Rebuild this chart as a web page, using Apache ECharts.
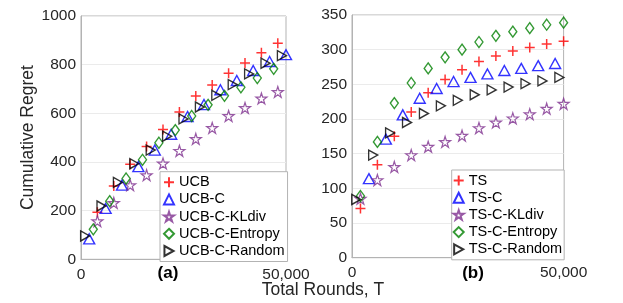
<!DOCTYPE html>
<html>
<head>
<meta charset="utf-8">
<script src="https://cdn.jsdelivr.net/npm/echarts@6/dist/echarts.min.js"></script>
<style>
html,body{margin:0;padding:0;background:#fff;}
#chart{width:623px;height:303px;}
</style>
</head>
<body>
<div id="chart"></div>
<script>
// ---- Panel (a): UCB family ----
const ucbX      = [4000, 8000, 12000, 16000, 20000, 24000, 28000, 32000, 36000, 40000, 44000, 48000];
const ucbY      = [193, 301, 391, 464, 534, 605, 671, 716, 765, 807, 849, 888];
const ucbCX     = [2000, 6000, 10000, 14000, 18000, 22000, 26000, 30000, 34000, 38000, 42000, 46000, 50000];
const ucbCY     = [84, 209, 305, 381, 449, 514, 587, 636, 697, 735, 776, 813, 841];
const ucbKLX    = [4000, 8000, 12000, 16000, 20000, 24000, 28000, 32000, 36000, 40000, 44000, 48000];
const ucbKLY    = [157, 232, 305, 346, 394, 446, 495, 540, 589, 622, 661, 688];
const ucbEntX   = [3000, 7000, 11000, 15000, 19000, 23000, 27000, 31000, 35000, 39000, 43000, 47000];
const ucbEntY   = [123, 239, 332, 409, 479, 531, 589, 635, 672, 707, 745, 783];
const ucbRndX   = [1000, 5000, 9000, 13000, 17000, 21000, 25000, 29000, 33000, 37000, 41000, 45000, 49000];
const ucbRndY   = [96, 219, 316, 393, 449, 506, 577, 626, 674, 718, 762, 806, 837];

// ---- Panel (b): TS family ----
const tsX       = [2000, 6000, 10000, 14000, 18000, 22000, 26000, 30000, 34000, 38000, 42000, 46000, 50000];
const tsY       = [71, 134, 175, 210, 238, 257, 271, 283, 291, 298, 303, 308, 312];
const tsCX      = [4000, 8000, 12000, 16000, 20000, 24000, 28000, 32000, 36000, 40000, 44000, 48000];
const tsCY      = [114, 171, 206, 230, 244, 254, 260, 265, 270, 273, 277, 280];
const tsKLX     = [2000, 6000, 10000, 14000, 18000, 22000, 26000, 30000, 34000, 38000, 42000, 46000, 50000];
const tsKLY     = [85, 112, 131, 148, 160, 167, 176, 187, 195, 201, 207, 215, 222];
const tsEntX    = [2000, 6000, 10000, 14000, 18000, 22000, 26000, 30000, 34000, 38000, 42000, 46000, 50000];
const tsEntY    = [89, 167, 223, 252, 273, 289, 300, 311, 320, 326, 331, 336, 339];
const tsRndX    = [1000, 5000, 9000, 13000, 17000, 21000, 25000, 29000, 33000, 37000, 41000, 45000, 49000];
const tsRndY    = [84, 148, 180, 195, 208, 219, 227, 235, 242, 246, 251, 255, 260];

const namesA = ['UCB', 'UCB-C', 'UCB-C-KLdiv', 'UCB-C-Entropy', 'UCB-C-Random'];
const namesB = ['TS', 'TS-C', 'TS-C-KLdiv', 'TS-C-Entropy', 'TS-C-Random'];
const xTicks = [0, 50000];
const yTicksA = [0, 200, 400, 600, 800, 1000];
const yTicksB = [0, 50, 100, 150, 200, 250, 300, 350];

const FONT = 'Liberation Sans, Arial, Helvetica, sans-serif';
const PLUS = 'path://M5,0L5,10M0,5L10,5';
const STAR = 'path://M10,0L12.245,6.91L19.511,6.91L13.633,11.18L15.878,18.09L10,13.82L4.122,18.09L6.367,11.18L0.489,6.91L7.755,6.91Z';
const RTRI = 'path://M0,0L10,5.5L0,11Z';

const styles = [
  {symbol: PLUS, size: 10, color: '#ff0000', bw: 1.5},
  {symbol: 'triangle', size: [11, 10], color: '#0000ff', bw: 1.4},
  {symbol: STAR, size: 11, color: '#7e2f8e', bw: 1.2},
  {symbol: 'diamond', size: [8, 11], color: '#008000', bw: 1.4},
  {symbol: RTRI, size: [9, 10], color: '#000000', bw: 1.4}
];

function zip(xs, ys) { return xs.map((x, i) => [x, ys[i]]); }

function mk(name, idx, xs, ys, st) {
  return {
    type: 'scatter', name: name, xAxisIndex: idx, yAxisIndex: idx,
    data: zip(xs, ys), symbol: st.symbol, symbolSize: st.size,
    itemStyle: {color: 'transparent', borderColor: st.color, borderWidth: st.bw},
    emphasis: {disabled: true}, animation: false
  };
}

const dataA = [[ucbX, ucbY], [ucbCX, ucbCY], [ucbKLX, ucbKLY], [ucbEntX, ucbEntY], [ucbRndX, ucbRndY]];
const dataB = [[tsX, tsY], [tsCX, tsCY], [tsKLX, tsKLY], [tsEntX, tsEntY], [tsRndX, tsRndY]];

const series = [];
dataA.forEach((d, i) => series.push(mk(namesA[i], 0, d[0], d[1], styles[i])));
dataB.forEach((d, i) => series.push(mk(namesB[i], 1, d[0], d[1], styles[i])));

const BOX = '#b3b3b3';
const LBL = '#262626';

function xAxisCfg(gi) {
  return {
    type: 'value', gridIndex: gi, min: xTicks[0], max: xTicks[xTicks.length - 1],
    interval: xTicks[1] - xTicks[0],
    axisLine: {show: true, lineStyle: {color: BOX}},
    axisTick: {show: false}, splitLine: {show: false},
    axisLabel: {color: LBL, fontSize: 15.5, fontFamily: FONT, margin: 7,
      formatter: v => v.toLocaleString('en-US')}
  };
}
function yAxisCfg(gi, ticks, name) {
  return {
    type: 'value', gridIndex: gi, min: ticks[0], max: ticks[ticks.length - 1],
    interval: ticks[1] - ticks[0],
    name: name, nameLocation: 'middle', nameGap: 38,
    nameTextStyle: {color: LBL, fontSize: 17.5, fontFamily: FONT},
    axisLine: {show: true, lineStyle: {color: BOX}},
    axisTick: {show: false},
    splitLine: {show: true, lineStyle: {color: '#ebebeb', width: 1}},
    axisLabel: {color: LBL, fontSize: 15.5, fontFamily: FONT, margin: 5,
      formatter: v => String(v)}
  };
}

const legendCommon = {
  orient: 'vertical', itemWidth: 10, itemHeight: 10, itemGap: 2.2,
  backgroundColor: '#ffffff', borderColor: BOX, borderWidth: 1, borderRadius: 0,
  textStyle: {color: '#000', fontSize: 14.5, fontFamily: FONT},
  selectedMode: false
};

const option = {
  animation: false,
  backgroundColor: '#ffffff',
  grid: [
    {left: 81, top: 16, width: 205, height: 243.3, show: true, borderColor: BOX, borderWidth: 1, backgroundColor: 'transparent'},
    {left: 352, top: 15, width: 211.6, height: 242.7, show: true, borderColor: BOX, borderWidth: 1, backgroundColor: 'transparent'}
  ],
  xAxis: [xAxisCfg(0), xAxisCfg(1)],
  yAxis: [yAxisCfg(0, yTicksA, 'Cumulative Regret'), yAxisCfg(1, yTicksB, '')],
  legend: [
    Object.assign({}, legendCommon, {data: namesA, left: 160, top: 171.7, padding: [3, 3, 3, 3]}),
    Object.assign({}, legendCommon, {data: namesB, left: 451.7, top: 170, padding: [3, 2, 3, 1]})
  ],
  graphic: [
    {type: 'text', x: 168, y: 273, style: {text: '(a)', font: 'bold 17px ' + FONT, fill: '#000', textAlign: 'center', textVerticalAlign: 'middle'}},
    {type: 'text', x: 473, y: 273, style: {text: '(b)', font: 'bold 17px ' + FONT, fill: '#000', textAlign: 'center', textVerticalAlign: 'middle'}},
    {type: 'text', x: 323, y: 290, style: {text: 'Total Rounds, T', font: '17.5px ' + FONT, fill: LBL, textAlign: 'center', textVerticalAlign: 'middle'}}
  ],
  series: series
};

const chart = echarts.init(document.getElementById('chart'), null, {renderer: 'canvas'});
chart.setOption(option);
</script>
</body>
</html>
